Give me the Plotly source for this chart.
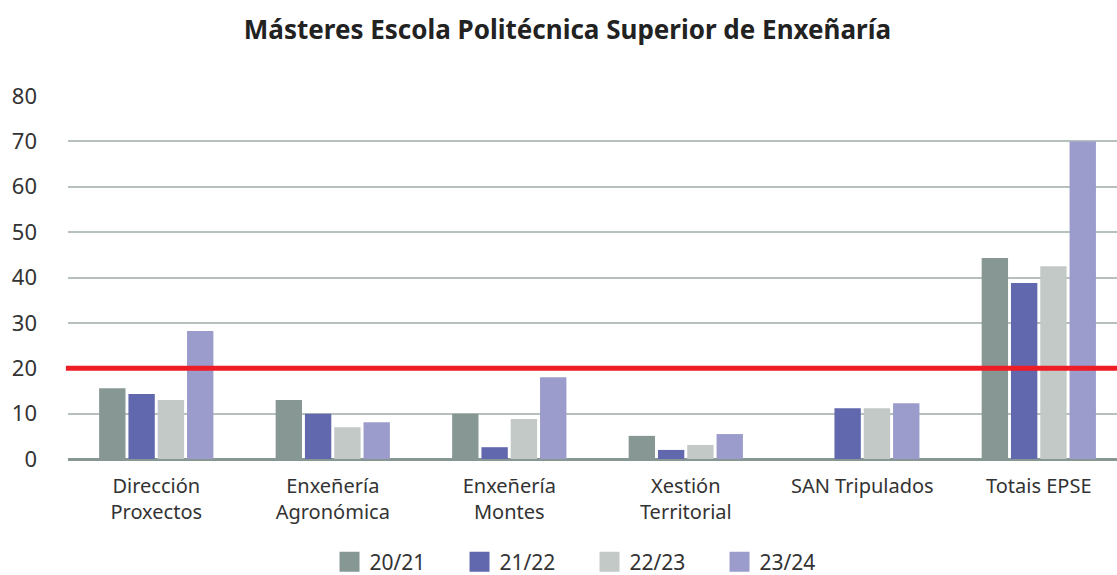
import plotly.graph_objects as go

categories = ["Dirección<br>Proxectos", "Enxeñería<br>Agronómica", "Enxeñería<br>Montes",
              "Xestión<br>Territorial", "SAN Tripulados", "Totais EPSE"]
series_names = ["20/21", "21/22", "22/23", "23/24"]
v_2021 = [15.6, 13.0, 10.0, 5.1, 0, 44.3]
v_2122 = [14.3, 10.0, 2.6, 2.0, 11.2, 38.8]
v_2223 = [13.0, 7.0, 8.8, 3.1, 11.2, 42.5]
v_2324 = [28.2, 8.1, 18.0, 5.5, 12.3, 70.0]
colors = ["#879894", "#6268AE", "#C2C9C7", "#9B9CCB"]
threshold = 20
y_ticks = [0, 10, 20, 30, 40, 50, 60, 70, 80]

FONT = "Noto Sans"
fig = go.Figure()
for name, vals, col in zip(series_names, [v_2021, v_2122, v_2223, v_2324], colors):
    fig.add_trace(go.Bar(x=categories, y=vals, name=name, marker_color=col,
                         marker_line_width=0, showlegend=False))
for name, col in zip(series_names, colors):
    fig.add_trace(go.Scatter(x=[None], y=[None], mode="markers", name=name,
                             marker=dict(symbol="square", size=16, color=col,
                                         line=dict(color=col, width=4))))

fig.add_shape(type="line", xref="paper", yref="y", x0=-0.002, x1=1, y0=threshold, y1=threshold,
              line=dict(color="#EE1D25", width=5), layer="above")

fig.update_layout(
    width=1117, height=575,
    paper_bgcolor="white", plot_bgcolor="white",
    margin=dict(l=68, r=0, t=96, b=116),
    title=dict(text="<b>Másteres Escola Politécnica Superior de Enxeñaría</b>",
               x=0.508, xanchor="center", xref="container", y=0.948, yanchor="middle",
               font=dict(family=FONT, size=26, color="#222222")),
    barmode="group", bargap=0.336, bargroupgap=0.1,
    font=dict(family=FONT, color="#333333"),
    legend=dict(orientation="h", xref="container", yref="container",
                x=0.295, xanchor="left", y=0.0226, yanchor="middle",
                entrywidth=85, entrywidthmode="pixels",
                font=dict(family=FONT, size=21, color="#333333"), itemsizing="trace"),
    xaxis=dict(range=[-0.5, 5.443], showgrid=False, showline=False, ticks="",
               tickfont=dict(family=FONT, size=20, color="#333333"), ticklabelstandoff=13),
    yaxis=dict(range=[0, 80], tickvals=y_ticks, showgrid=True, gridcolor="#B6C0BE", gridwidth=1.5,
               zeroline=True, zerolinecolor="#879894", zerolinewidth=3,
               showline=False, ticks="", ticklabelstandoff=30,
               tickfont=dict(family=FONT, size=22, color="#333333")),
)
fig.write_html("out.html", config={"displayModeBar": False},
               post_script="document.body.style.margin='0';")
